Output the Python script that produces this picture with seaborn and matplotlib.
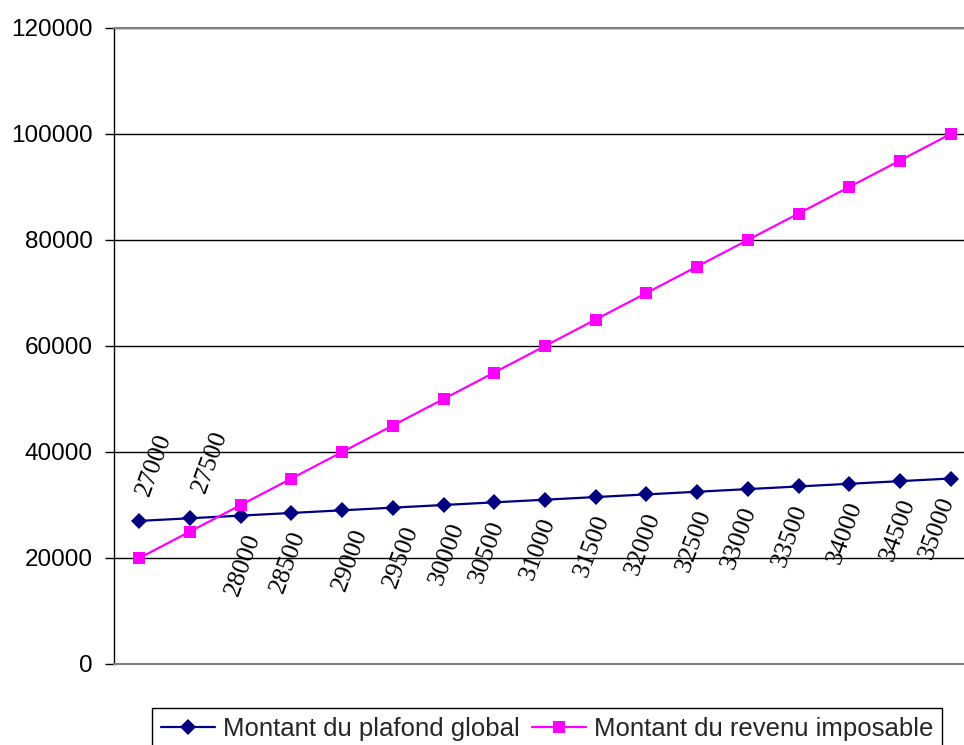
import matplotlib
matplotlib.use("Agg")
import matplotlib.pyplot as plt
import seaborn as sns
import pandas as pd

# Series values
plafond_global = [27000, 27500, 28000, 28500, 29000, 29500, 30000, 30500, 31000,
                  31500, 32000, 32500, 33000, 33500, 34000, 34500, 35000]
revenu_imposable = [20000, 25000, 30000, 35000, 40000, 45000, 50000, 55000, 60000,
                    65000, 70000, 75000, 80000, 85000, 90000, 95000, 100000]
series_names = ["Montant du plafond global", "Montant du revenu imposable"]
y_ticks = [0, 20000, 40000, 60000, 80000, 100000, 120000]

df = pd.DataFrame({
    "pos": list(range(len(plafond_global))),
    "plafond": plafond_global,
    "revenu": revenu_imposable,
})

sns.set_style("white")
plt.rcParams["font.family"] = ["Liberation Sans", "DejaVu Sans"]

fig = plt.figure(figsize=(9.64, 7.45), dpi=100)
ax = fig.add_axes([114 / 964, (745 - 664) / 745, (976 - 114) / 964, 636 / 745])

navy = "#000080"
magenta = "#FF00FF"

sns.lineplot(data=df, x="pos", y="plafond", ax=ax, color=navy, lw=1.6,
             marker="D", markersize=8.5, markeredgewidth=0, label=series_names[0])
sns.lineplot(data=df, x="pos", y="revenu", ax=ax, color=magenta, lw=1.6,
             marker="s", markersize=9, markeredgewidth=0, label=series_names[1])

ax.set_xlim(-0.5, len(plafond_global) - 0.5)
ax.set_ylim(y_ticks[0], y_ticks[-1])
ax.set_yticks(y_ticks)
ax.set_yticklabels([str(v) for v in y_ticks])
ax.set_xticks([])
ax.set_xlabel("")
ax.set_ylabel("")

ax.yaxis.grid(True, color="black", lw=1.0)
ax.set_axisbelow(True)
for side in ["top", "bottom"]:
    ax.spines[side].set_color("#808080")
    ax.spines[side].set_linewidth(1.5)
    ax.spines[side].set_zorder(3)
ax.spines["left"].set_color("black")
ax.spines["left"].set_linewidth(1.0)
ax.spines["right"].set_visible(False)

ax.tick_params(axis="y", which="both", left=True, length=6.5, width=1.0,
               color="black", pad=9, labelsize=17.5, labelcolor="black")

# Data labels on the plafond series: first two above the line, the rest below
label_dx = [15, 20, 2, -3, 8, 8, 4, -7, -7, -4, -3, -3, -9, -8, -4, -2, -14]
for i, v in enumerate(plafond_global):
    off = (label_dx[i], 56) if i < 2 else (label_dx[i], -49)
    ax.annotate(str(v), xy=(i, v), xytext=off, textcoords="offset pixels",
                ha="center", va="center", rotation=70, rotation_mode="anchor",
                fontsize=18.5, family=["Liberation Serif", "DejaVu Serif"],
                color="black")

ax.get_legend().remove()
handles, labels = ax.get_legend_handles_labels()
leg = fig.legend(handles, labels, loc="upper left",
                 bbox_to_anchor=(152 / 964, 1 - 708 / 745), ncol=2,
                 fontsize=18.5, frameon=True, fancybox=False, framealpha=1,
                 edgecolor="black", handlelength=2.1, handletextpad=0.3,
                 columnspacing=0.5, borderpad=0.35, borderaxespad=0)
leg.get_frame().set_linewidth(1.0)

fig.savefig("out.png", dpi=100)
